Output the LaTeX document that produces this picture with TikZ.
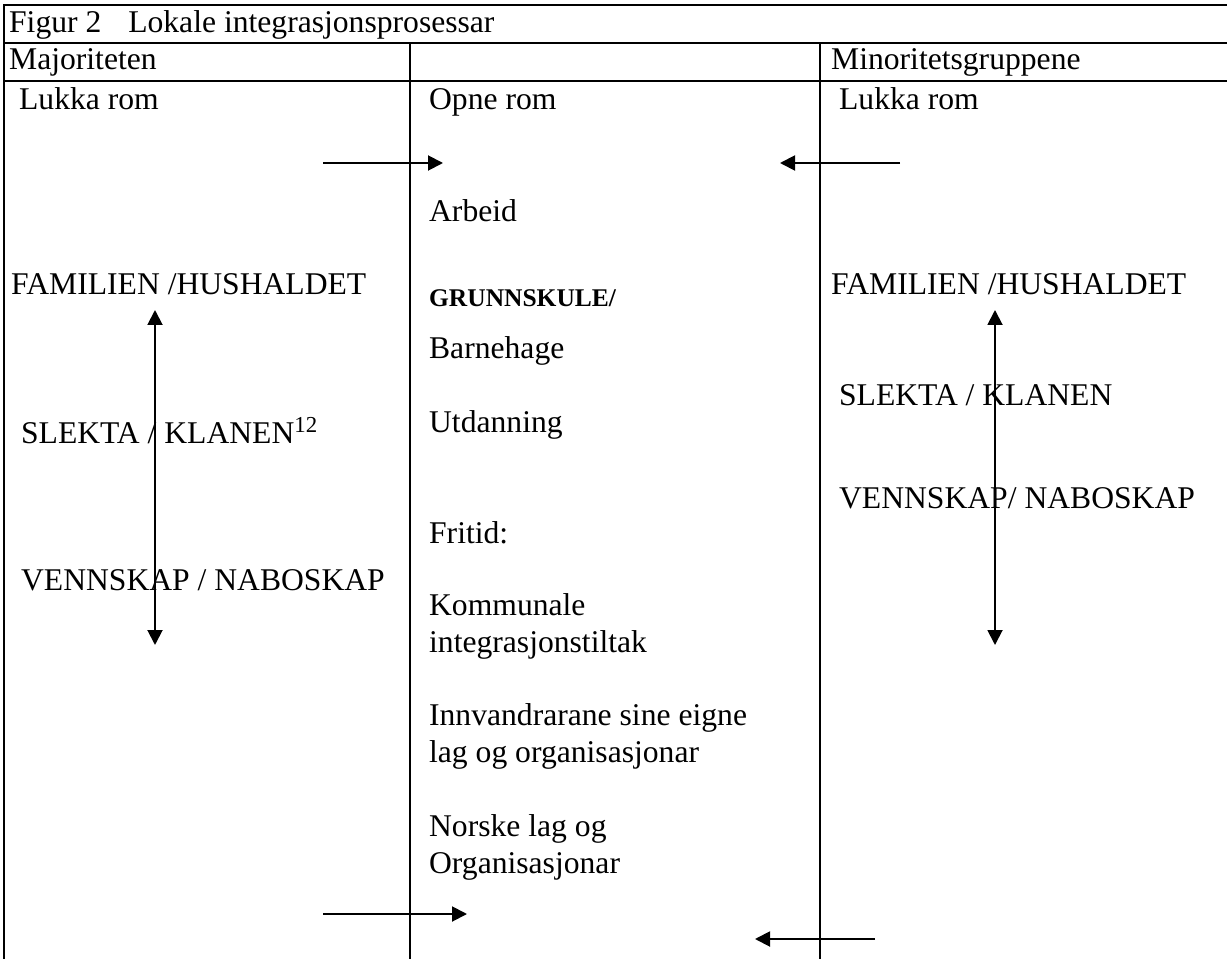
\documentclass[tikz,border=0pt]{standalone}
\usepackage{fontspec}
\setmainfont{Liberation Serif}
\usetikzlibrary{arrows.meta}
\begin{document}
\begin{tikzpicture}[x=0.02cm,y=-0.02cm,line width=1.3pt,
  font=\fontsize{18}{21}\selectfont,
  txt/.style={anchor=base west,inner sep=0pt,align=left},
  flow/.style={line width=1.1pt,-{Triangle[length=0.3cm,width=0.3cm]}},
  twoway/.style={line width=1.1pt,{Triangle[length=0.3cm,width=0.3cm]}-{Triangle[length=0.3cm,width=0.3cm]}}]
  \useasboundingbox (0,0) rectangle (1227,959);
  % Table frame
  \draw (1227,5) -- (4,5) -- (4,959);
  \foreach \y in {43,81}{\draw (4,\y) -- (1227,\y);}
  \foreach \x in {410,820}{\draw (\x,43) -- (\x,959);}
  % Header rows
  \node[txt] (title) at (8,33) {Figur 2\hspace{0.6em} Lokale integrasjonsprosessar};
  \node[txt] (major) at (8,70) {Majoriteten};
  \node[txt] (minor) at (830,70) {Minoritetsgruppene};
  \node[txt] (lukkaL) at (18,110) {Lukka rom};
  \node[txt] (opne) at (428,110) {Opne rom};
  \node[txt] (lukkaR) at (838,110) {Lukka rom};
  % Left column : majority
  \node[txt] (famL) at (10,295) {FAMILIEN /HUSHALDET};
  \node[txt] (slektL) at (20,443) {SLEKTA / KLANEN{\fontsize{13}{13}\selectfont\raisebox{0.45em}{12}}};
  \node[txt] (vennL) at (20,590) {VENNSKAP / NABOSKAP};
  % Middle column : open rooms (two-line nodes sit on their last line)
  \node[txt] (arbeid) at (428,222) {Arbeid};
  \node[txt,font=\fontsize{14.5}{17}\selectfont\bfseries] (skule) at (428,307) {GRUNNSKULE/};
  \node[txt] (barne) at (428,358) {Barnehage};
  \node[txt] (utd) at (428,432) {Utdanning};
  \node[txt] (fritid) at (428,543) {Fritid:};
  \node[txt] (kommune) at (428,652) {Kommunale\\integrasjonstiltak};
  \node[txt] (innv) at (428,762) {Innvandrarane sine eigne\\lag og organisasjonar};
  \node[txt] (norske) at (428,873) {Norske lag og\\Organisasjonar};
  % Right column : minority groups
  \node[txt] (famR) at (830,295) {FAMILIEN /HUSHALDET};
  \node[txt] (slektR) at (838,405) {SLEKTA / KLANEN};
  \node[txt] (vennR) at (838,508) {VENNSKAP/ NABOSKAP};
  % Arrow ends
  \coordinate (inL1) at (323,163);  \coordinate (outL1) at (443,163);
  \coordinate (inR1) at (900,163);  \coordinate (outR1) at (780,163);
  \coordinate (inL2) at (323,914);  \coordinate (outL2) at (467,914);
  \coordinate (inR2) at (875,939);  \coordinate (outR2) at (755,939);
  \coordinate (upL) at (155,310);   \coordinate (dnL) at (155,645);
  \coordinate (upR) at (995,310);   \coordinate (dnR) at (995,645);
  \draw[flow] (inL1) -- (outL1);
  \draw[flow] (inR1) -- (outR1);
  \draw[flow] (inL2) -- (outL2);
  \draw[flow] (inR2) -- (outR2);
  \draw[twoway] (upL) -- (dnL);
  \draw[twoway] (upR) -- (dnR);
\end{tikzpicture}
\end{document}
